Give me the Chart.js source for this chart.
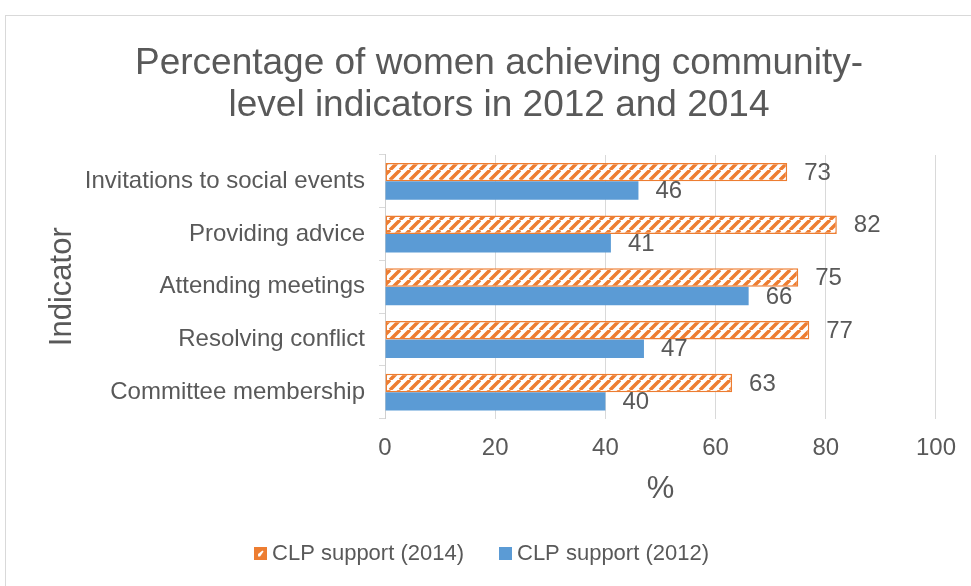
<!DOCTYPE html>
<html>
<head>
<meta charset="utf-8">
<script src="https://cdn.jsdelivr.net/npm/chart.js@4/dist/chart.umd.min.js"></script>
<style>
  html, body { margin: 0; padding: 0; background: #fff; overflow: hidden; }
  .frame { position: absolute; left: 5px; top: 15px; width: 1000px; height: 600px; border: 1px solid #d9d9d9; }
  .wrap { position: absolute; left: 0; top: 0; width: 971px; height: 586px; }
</style>
</head>
<body>
<div class="frame"></div>
<div class="wrap"><canvas id="womenChart" width="971" height="586"></canvas></div>
<script>
const indicators = ['Invitations to social events', 'Providing advice', 'Attending meetings', 'Resolving conflict', 'Committee membership'];
const support2014 = [73, 82, 75, 77, 63];
const support2012 = [46, 41, 66, 47, 40];
const seriesNames = ['CLP support (2014)', 'CLP support (2012)'];
const titleLines = ['Percentage of women achieving community-', 'level indicators in 2012 and 2014'];

const orange = '#ED7D31';
const blue = '#5B9BD5';
const textGrey = '#595959';
const gridGrey = '#d9d9d9';
const fontFamily = '"Liberation Sans", Arial, sans-serif';

// diagonal hatch like excel's "wide upward diagonal"
const makeHatch = () => {
  const s = 10;
  const c = document.createElement('canvas');
  c.width = s; c.height = s;
  const g = c.getContext('2d');
  g.fillStyle = '#fff';
  g.fillRect(0, 0, s, s);
  g.strokeStyle = orange;
  g.lineWidth = 3.5;
  g.beginPath();
  for (let k = -s; k <= s; k += s) {
    g.moveTo(k, s);
    g.lineTo(k + s, 0);
  }
  g.stroke();
  return g.createPattern(c, 'repeat');
};

// small legend squares, the hatched one is mostly orange with a white notch
const makeIcon = (color, notch) => {
  const c = document.createElement('canvas');
  c.width = 13; c.height = 13;
  const g = c.getContext('2d');
  g.fillStyle = color;
  g.fillRect(0, 0, 13, 13);
  if (notch) {
    g.fillStyle = '#fff';
    g.beginPath();
    g.moveTo(4, 9.5);
    g.lineTo(4, 7);
    g.lineTo(8.5, 3.5);
    g.lineTo(9.5, 4.5);
    g.lineTo(6, 9.5);
    g.closePath();
    g.fill();
  }
  return c;
};

const valueLabels = {
  id: 'valueLabels',
  beforeDraw(chart) {
    // legend sits a bit left of centre in the original
    if (chart.legend && !chart.legend._shifted) {
      chart.legend.left -= 14.5;
      chart.legend.right -= 14.5;
      chart.legend._shifted = true;
    }
  },
  afterLayout(chart) {
    if (chart.legend) chart.legend._shifted = false;
  },
  afterDatasetsDraw(chart) {
    const ctx = chart.ctx;
    ctx.save();
    ctx.font = '24px ' + fontFamily;
    ctx.fillStyle = textGrey;
    ctx.textAlign = 'left';
    ctx.textBaseline = 'middle';
    chart.data.datasets.forEach((ds, i) => {
      chart.getDatasetMeta(i).data.forEach((bar, j) => {
        ctx.fillText(String(ds.data[j]), bar.x + 17, bar.y + 1);
      });
    });
    ctx.restore();
  },
};

const canvas = document.getElementById('womenChart');
new Chart(canvas, {
  type: 'bar',
  data: {
    labels: indicators,
    datasets: [
      {
        label: seriesNames[0],
        data: support2014,
        backgroundColor: makeHatch(),
        borderColor: orange,
        borderWidth: 1.5,
        borderSkipped: false,
        categoryPercentage: 0.7,
        barPercentage: 1.0,
        pointStyle: makeIcon(orange, true),
      },
      {
        label: seriesNames[1],
        data: support2012,
        backgroundColor: blue,
        borderWidth: 0,
        categoryPercentage: 0.7,
        barPercentage: 1.0,
        pointStyle: makeIcon(blue, false),
      },
    ],
  },
  options: {
    indexAxis: 'y',
    responsive: false,
    animation: false,
    layout: { padding: { left: 59, right: 32, top: 10, bottom: 11.5 } },
    scales: {
      x: {
        min: 0,
        max: 100,
        ticks: { stepSize: 20, color: textGrey, font: { size: 24, family: fontFamily }, padding: 15 },
        grid: { color: gridGrey, drawTicks: false },
        border: { display: false },
        title: { display: true, text: '%', color: textGrey, font: { size: 31, family: fontFamily }, padding: { top: -6.4, bottom: -6.6 } },
      },
      y: {
        ticks: { color: textGrey, font: { size: 24, family: fontFamily }, padding: 14 },
        grid: { drawOnChartArea: false, drawTicks: true, tickLength: 6, color: gridGrey },
        border: { display: true, color: '#cfcfcf' },
        title: { display: true, text: 'Indicator', color: textGrey, font: { size: 31, family: fontFamily }, padding: { top: -15.6, bottom: 0 } },
        afterFit: (scale) => { scale.width = 326; },
      },
    },
    plugins: {
      title: {
        display: true,
        text: titleLines,
        color: textGrey,
        font: { size: 37, weight: 'normal', family: fontFamily, lineHeight: 1.135 },
        padding: { top: 33, bottom: 28 },
      },
      legend: {
        position: 'bottom',
        labels: { color: textGrey, font: { size: 22, family: fontFamily }, usePointStyle: true, boxWidth: 1, boxHeight: 13, padding: 41 },
      },
      tooltip: { enabled: false },
    },
  },
  plugins: [valueLabels],
});
</script>
</body>
</html>
